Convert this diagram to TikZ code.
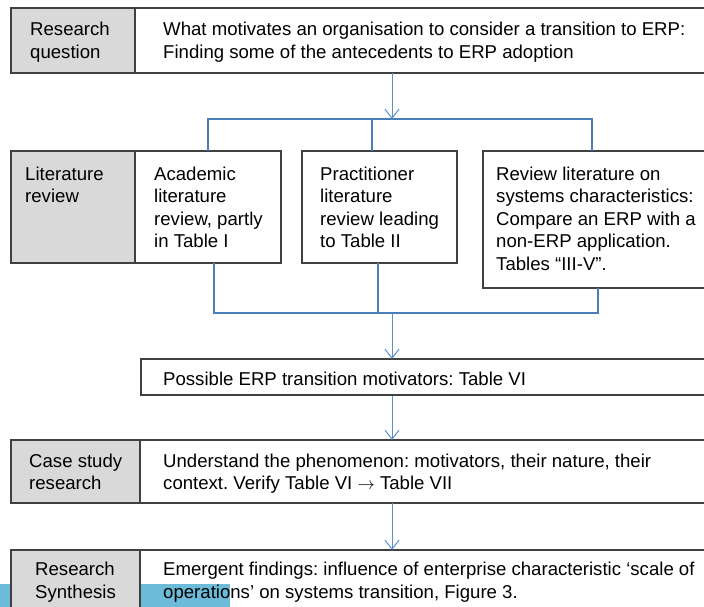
\documentclass[tikz,border=0pt]{standalone}
\usepackage{fontspec}
\setmainfont{Liberation Sans}
\usetikzlibrary{arrows.meta}
\definecolor{labelgray}{HTML}{D9D9D9}
\definecolor{linkblue}{HTML}{4A7EBB}
\definecolor{arrowblue}{HTML}{5B8FCF}
\definecolor{bandblue}{HTML}{6BBBD9}
\definecolor{boxline}{HTML}{404040}
\frenchspacing
\begin{document}
\begin{tikzpicture}[x=1pt,y=-1pt,
  font=\fontsize{18.6}{22.6}\selectfont\frenchspacing,
  labelbox/.style={draw=boxline,line width=1.1pt,fill=labelgray},
  plainbox/.style={draw=boxline,line width=1.1pt,fill=white},
  % multi-line text is placed by the baseline of its last line
  txt/.style={anchor=base west,inner sep=0pt,align=left,text depth=0pt},
  link/.style={draw=linkblue,line width=2pt},
  flow/.style={draw=arrowblue,line width=1pt,-{Straight Barb[length=9pt,width=14pt,line width=1pt]}}]
\useasboundingbox (0,0) rectangle (704,607);
\begin{scope}
\clip (0,0) rectangle (704,607);

% row 1: research question
\draw[plainbox] (135,8) rectangle (712,73);
\draw[labelbox] (11,8) rectangle (135,73);
\coordinate (rqs) at (392,73);
\node[txt] (rqlab) at (30,58.1) {Research\\question};
\node[txt] (rqtxt) at (163,58.1) {What motivates an organisation to consider a transition to ERP:\\Finding some of the antecedents to ERP adoption};

% row 2: literature review
\draw[labelbox] (11,151) rectangle (135,263);
\draw[plainbox] (135,151) rectangle (281,263);
\draw[plainbox] (302,151) rectangle (457,263);
\draw[plainbox] (483,151) rectangle (712,288);
\node[txt] (litlab) at (25,202.6) {Literature\\review};
\node[txt] (acad) at (154,247.8) {Academic\\literature\\review, partly\\in Table I};
\node[txt] (prac) at (320,247.8) {Practitioner\\literature\\review leading\\to Table II};
\node[txt] (rev) at (496,270.4) {Review literature on\\systems characteristics:\\Compare an ERP with a\\non-ERP application.\\Tables “III-V”.};

% row 3: motivators
\draw[plainbox] (141,359) rectangle (712,395);
\node[txt] (motiv) at (163,385.5) {Possible ERP transition motivators: Table VI};

% row 4: case study
\draw[plainbox] (140,440) rectangle (712,503);
\draw[labelbox] (11,440) rectangle (140,503);
\node[txt] (caselab) at (29,489.6) {Case study\\research};
\node[txt] (casetxt) at (163,489.6) {Understand the phenomenon: motivators, their nature, their\\context. Verify Table VI $\rightarrow$ Table VII};

% row 5: synthesis
\draw[plainbox] (140,550) rectangle (712,620);
\fill[bandblue] (0,584) rectangle (230,607);
\draw[labelbox] (11,550) rectangle (140,620);
\node[txt] (synlab) at (35,598.1) {Research\\Synthesis};
\node[txt] (syntxt) at (163,598.1) {Emergent findings: influence of enterprise characteristic ‘scale of\\operations’ on systems transition, Figure 3.};

% fan-out from the question to the three reviews
\coordinate (split) at (392,119);
\coordinate (dropa) at (208,151);
\coordinate (dropb) at (372,151);
\coordinate (dropc) at (592,151);
\draw[link] (dropa) |- (dropc |- split) -- (dropc);
\draw[link] (dropb) -- (dropb |- split);
\draw[flow] (rqs) -- (split);

% fan-in from the reviews to the motivators
\coordinate (join) at (392,313);
\coordinate (upa) at (214,263);
\coordinate (upb) at (378,263);
\coordinate (upc) at (598,288);
\draw[link] (upa) |- (upc |- join) -- (upc);
\draw[link] (upb) -- (upb |- join);
\coordinate (motivtop) at (392,359);
\draw[flow] (join) -- (motivtop);

% motivators to case study, case study to synthesis
\coordinate (motivbot) at (392,396);
\coordinate (casetop) at (392,440);
\coordinate (casebot) at (392,503);
\coordinate (syntop) at (392,550);
\draw[flow] (motivbot) -- (casetop);
\draw[flow] (casebot) -- (syntop);
\end{scope}
\end{tikzpicture}
\end{document}
